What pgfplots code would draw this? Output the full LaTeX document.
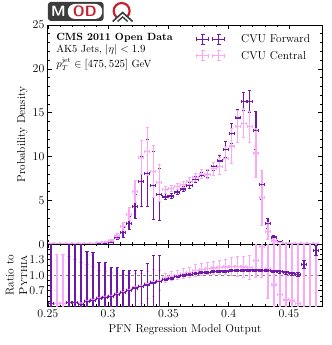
\documentclass[border=0pt]{standalone}
\usepackage{pgfplots}
\usepackage{pgfplotstable}
\usetikzlibrary{arrows.meta}
\pgfplotsset{compat=1.18}
\definecolor{cvuF}{RGB}{112,24,168}
\definecolor{cvuC}{RGB}{252,168,250}
\definecolor{logodark}{RGB}{60,60,60}
\definecolor{logored}{RGB}{200,30,45}

\pgfplotstableread{
x y ey
0.2525 0.02 0.02
0.2575 0.01 0.01
0.2625 0.01 0.01
0.2675 0.02 0.02
0.2725 0.02 0.02
0.2775 0.03 0.02
0.2825 0.04 0.03
0.2875 0.05 0.03
0.2925 0.08 0.04
0.2975 0.12 0.05
0.3025 0.25 0.10
0.3075 0.76 0.30
0.3125 1.33 0.60
0.3175 2.40 0.80
0.3225 4.30 1.40
0.3275 7.20 2.90
0.3325 8.10 3.90
0.3375 6.70 3.90
0.3425 5.70 3.00
0.3475 5.40 0.40
0.3525 5.50 0.30
0.3575 5.95 0.30
0.3625 6.30 0.30
0.3675 6.70 0.35
0.3725 7.40 0.40
0.3775 7.80 0.40
0.3825 8.00 0.50
0.3875 8.90 0.50
0.3925 9.50 0.70
0.3975 10.80 1.00
0.4025 12.60 1.20
0.4075 14.40 1.00
0.4125 16.30 1.10
0.4175 16.30 1.30
0.4225 13.00 2.20
0.4275 6.80 1.70
0.4325 2.35 0.60
0.4375 0.83 0.20
0.4425 0.27 0.10
0.4475 0.12 0.05
0.4525 0.06 0.03
0.4575 0.04 0.02
0.4625 0.02 0.02
0.4675 0.01 0.01
0.4725 0.01 0.01
}\mainF

\pgfplotstableread{
x y ey
0.2525 0.04 0.02
0.2575 0.04 0.02
0.2625 0.05 0.02
0.2675 0.05 0.02
0.2725 0.06 0.02
0.2775 0.07 0.03
0.2825 0.09 0.03
0.2875 0.12 0.04
0.2925 0.18 0.05
0.2975 0.25 0.08
0.3025 0.40 0.15
0.3075 0.95 0.30
0.3125 2.00 0.50
0.3175 3.40 0.80
0.3225 6.00 1.30
0.3275 9.85 2.00
0.3325 10.60 2.80
0.3375 8.30 3.00
0.3425 7.00 2.20
0.3475 6.20 0.50
0.3525 6.40 0.40
0.3575 6.60 0.40
0.3625 6.80 0.40
0.3675 7.20 0.45
0.3725 7.60 0.50
0.3775 8.00 0.60
0.3825 8.00 0.60
0.3875 8.60 0.80
0.3925 8.90 1.00
0.3975 9.80 1.40
0.4025 11.20 2.00
0.4075 13.40 1.90
0.4125 13.80 1.70
0.4175 13.40 1.80
0.4225 10.40 2.80
0.4275 5.30 3.20
0.4325 1.50 1.00
0.4375 0.38 0.30
0.4425 0.20 0.10
0.4475 0.10 0.05
0.4525 0.08 0.04
0.4575 0.06 0.03
0.4625 0.05 0.03
0.4675 0.04 0.03
0.4725 0.04 0.03
}\mainC

\pgfplotstableread{
x y ep em
0.2525 0.450 1.50 1.00
0.2675 0.465 1.50 1.00
0.2725 0.465 1.50 1.00
0.2775 0.430 1.50 1.00
0.2825 0.495 0.975 1.00
0.2875 0.510 0.94 1.00
0.2925 0.540 0.72 1.00
0.2975 0.570 0.68 1.00
0.3025 0.590 0.57 1.00
0.3075 0.620 0.53 1.00
0.3125 0.660 0.44 1.00
0.3175 0.700 0.40 1.00
0.3225 0.750 0.35 1.00
0.3275 0.780 0.32 1.00
0.3325 0.810 0.42 1.00
0.3375 0.850 0.55 1.00
0.3425 0.880 0.52 1.00
0.3475 0.91 0.03 0.03
0.3525 0.94 0.03 0.03
0.3575 0.97 0.03 0.03
0.3625 1.00 0.03 0.03
0.3675 1.02 0.03 0.03
0.3725 1.04 0.03 0.03
0.3775 1.05 0.03 0.03
0.3825 1.06 0.03 0.03
0.3875 1.07 0.03 0.03
0.3925 1.08 0.03 0.03
0.3975 1.08 0.03 0.03
0.4025 1.09 0.03 0.03
0.4075 1.09 0.03 0.03
0.4125 1.10 0.03 0.03
0.4175 1.10 0.03 0.03
0.4225 1.10 0.03 0.03
0.4275 1.09 0.03 0.03
0.4325 1.09 0.03 0.03
0.4375 1.08 0.03 0.03
0.4425 1.07 0.04 0.04
0.4475 1.05 0.04 0.04
0.4525 1.03 0.04 0.04
0.4575 1.02 0.05 0.05
0.4625 1.21 0.08 0.08
0.4725 1.48 0.10 0.10
}\ratF

\pgfplotstableread{
x y ep em
0.2525 0.45 1.50 1.00
0.2575 0.45 0.97 1.00
0.2625 0.45 0.97 1.00
0.2675 0.47 0.90 1.00
0.2725 0.47 0.85 1.00
0.2775 0.46 0.80 1.00
0.2825 0.51 0.70 1.00
0.2875 0.53 0.65 1.00
0.2925 0.56 0.55 1.00
0.2975 0.59 0.50 1.00
0.3025 0.61 0.45 1.00
0.3075 0.64 0.40 1.00
0.3125 0.68 0.35 1.00
0.3175 0.72 0.32 0.50
0.3225 0.77 0.28 0.40
0.3275 0.80 0.25 0.35
0.3325 0.83 0.25 0.30
0.3375 0.87 0.25 0.30
0.3425 0.90 0.20 0.20
0.3475 0.95 0.10 0.10
0.3525 0.98 0.10 0.10
0.3575 1.00 0.10 0.10
0.3625 1.03 0.11 0.11
0.3675 1.05 0.11 0.11
0.3725 1.09 0.12 0.12
0.3775 1.11 0.12 0.12
0.3825 1.13 0.13 0.13
0.3875 1.14 0.14 0.14
0.3925 1.15 0.15 0.15
0.3975 1.16 0.16 0.16
0.4025 1.17 0.18 0.18
0.4075 1.17 0.20 0.20
0.4125 1.16 0.22 0.22
0.4175 1.15 0.25 0.25
0.4225 1.29 0.35 0.35
0.4275 1.55 0.60 0.60
0.4325 1.13 0.60 0.60
0.4375 0.81 1.00 1.00
0.4425 0.62 1.00 1.00
0.4475 0.52 1.20 1.20
0.4525 0.50 1.20 1.20
0.4575 0.45 1.30 1.30
0.4625 0.35 1.50 1.50
0.4675 0.30 1.50 1.50
0.4725 0.30 1.50 1.50
}\ratC

\newcommand{\errglyph}[1]{%
  \foreach \xx in {6bp,22bp}{%
    \draw[#1, line width=1.3pt] (\xx,-5bp)--(\xx,5bp) (\xx-6bp,0bp)--(\xx+6bp,0bp);
    \draw[#1, line width=1.1pt] (\xx-2bp,5bp)--(\xx+2bp,5bp) (\xx-2bp,-5bp)--(\xx+2bp,-5bp)
      (\xx-6bp,-2bp)--(\xx-6bp,2bp) (\xx+6bp,-2bp)--(\xx+6bp,2bp);
  }%
}

\pgfplotsset{
  ybar err/.style={color=#1, draw=#1, line width=1.5pt, forget plot,
    arrows={Bar[width=3.2bp,line width=1pt]-Bar[width=3.2bp,line width=1pt]}},
  xbar err/.style={color=#1, draw=#1, line width=1.2pt, forget plot,
    arrows={Bar[width=3bp,line width=1pt]-Bar[width=3bp,line width=1pt]},
    quiver={u=0.005, v=0}},
  base/.style={scale only axis, width=275bp, xmin=0.25, xmax=0.4775,
    tick align=inside, major tick length=4bp, minor tick length=2bp,
    axis line style={line width=0.8pt},
    every tick/.style={black, line width=0.6pt},
    tick label style={font=\fontsize{11.5}{13.5}\selectfont},
    label style={font=\fontsize{11.5}{13.5}\selectfont},
    xtick={0.25,0.3,0.35,0.4,0.45}, minor x tick num=4},
}

\begin{document}
\begin{tikzpicture}
\begin{axis}[base, name=main, height=220bp, ymin=0, ymax=25,
  ytick={0,5,10,15,20,25}, minor y tick num=4, xticklabels={},
  ylabel={Probability Density},
  ylabel style={at={(axis description cs:-0.0927,0.5)}, anchor=center},
  legend style={at={(rel axis cs:0.975,0.975)}, anchor=north east, draw=none, fill=none,
    font=\fontsize{11.5}{13.5}\selectfont, row sep=3bp, legend cell align=left},
  ]
% CVU Forward
\addplot[ybar err=cvuF, quiver={u=0, v=2*\thisrow{ey}}]
  table[x=x, y expr=\thisrow{y}-\thisrow{ey}] {\mainF};
\addplot[xbar err=cvuF] table[x expr=\thisrow{x}-0.0025, y=y] {\mainF};
\addplot[color=cvuF, only marks, mark=*, mark size=0.6pt, legend image code/.code={\errglyph{cvuF}}]
  table[x=x, y=y] {\mainF};
\addlegendentry{\hspace{14bp}CVU Forward}
% CVU Central
\addplot[ybar err=cvuC, quiver={u=0, v=2*\thisrow{ey}}]
  table[x=x, y expr=\thisrow{y}-\thisrow{ey}] {\mainC};
\addplot[xbar err=cvuC] table[x expr=\thisrow{x}-0.0025, y=y] {\mainC};
\addplot[color=cvuC, only marks, mark=*, mark size=0.6pt, legend image code/.code={\errglyph{cvuC}}]
  table[x=x, y=y] {\mainC};
\addlegendentry{\hspace{14bp}CVU Central}
\node[anchor=north west, align=left, inner sep=0pt, font=\fontsize{10.5}{13}\selectfont]
  at (rel axis cs:0.03,0.965)
  {\textbf{CMS 2011 Open Data}\\AK5 Jets, $|\eta| < 1.9$\\[2bp]$p_T^{\mathrm{jet}} \in [475, 525]$ GeV};
\end{axis}

\begin{axis}[base, name=ratio, at={(main.south west)}, anchor=north west,
  height=62bp, ymin=0.4, ymax=1.6,
  ytick={0.7,1.0,1.3}, minor ytick={0.5,0.6,0.8,0.9,1.1,1.2,1.4,1.5},
  yticklabel style={/pgf/number format/.cd, fixed, fixed zerofill, precision=1},
  xticklabel style={/pgf/number format/.cd, fixed, precision=2},
  xlabel={PFN Regression Model Output},
  xlabel style={at={(axis description cs:0.5,-0.387)}, anchor=center},
  ylabel={Ratio to\\\textsc{Pythia}},
  ylabel style={align=center, at={(axis description cs:-0.1145,0.5)}, anchor=center},
  ]
\addplot[gray, dashed, line width=0.8pt, forget plot] coordinates {(0.25,1) (0.4775,1)};
% Central
\addplot[ybar err=cvuC, quiver={u=0, v=\thisrow{ep}+\thisrow{em}}]
  table[x=x, y expr=\thisrow{y}-\thisrow{em}] {\ratC};
\addplot[xbar err=cvuC] table[x expr=\thisrow{x}-0.0025, y=y] {\ratC};
\addplot[color=cvuC, only marks, mark=*, mark size=0.6pt, forget plot] table[x=x, y=y] {\ratC};
% Forward
\addplot[ybar err=cvuF, quiver={u=0, v=\thisrow{ep}+\thisrow{em}}]
  table[x=x, y expr=\thisrow{y}-\thisrow{em}] {\ratF};
\addplot[xbar err=cvuF] table[x expr=\thisrow{x}-0.0025, y=y] {\ratF};
\addplot[color=cvuF, only marks, mark=*, mark size=0.6pt, forget plot] table[x=x, y=y] {\ratF};
\end{axis}

% logo
\fill[logodark, rounded corners=3bp] ([shift={(0bp,4bp)}]main.north west) rectangle ([shift={(56bp,23bp)}]main.north west);
\fill[white, rounded corners=7bp] ([shift={(20bp,6bp)}]main.north west) rectangle ([shift={(54.5bp,21bp)}]main.north west);
\node[white, font=\sffamily\bfseries\fontsize{15}{15}\selectfont, inner sep=0pt] at ([shift={(10.5bp,13.5bp)}]main.north west) {M};
\node[logored, font=\sffamily\bfseries\fontsize{15}{15}\selectfont, inner sep=0pt] at ([shift={(37bp,13.5bp)}]main.north west) {OD};
\draw[logored, line width=2.2pt] ([shift={(74bp,14bp)}]main.north west) circle (8bp);
\fill[white] ([shift={(64bp,3bp)}]main.north west) -- ([shift={(75bp,13bp)}]main.north west) -- ([shift={(86bp,3bp)}]main.north west) -- cycle;
\draw[logodark, line width=1.6pt] ([shift={(65bp,3.5bp)}]main.north west) -- ([shift={(75bp,12.5bp)}]main.north west) -- ([shift={(85bp,3.5bp)}]main.north west);
\draw[logodark, line width=1.4pt] ([shift={(70bp,3.5bp)}]main.north west) -- ([shift={(75bp,8bp)}]main.north west) -- ([shift={(80bp,3.5bp)}]main.north west);

\path ([shift={(-48bp,25bp)}]main.north west) rectangle ([shift={(9bp,-39bp)}]ratio.south east);
\end{tikzpicture}
\end{document}
